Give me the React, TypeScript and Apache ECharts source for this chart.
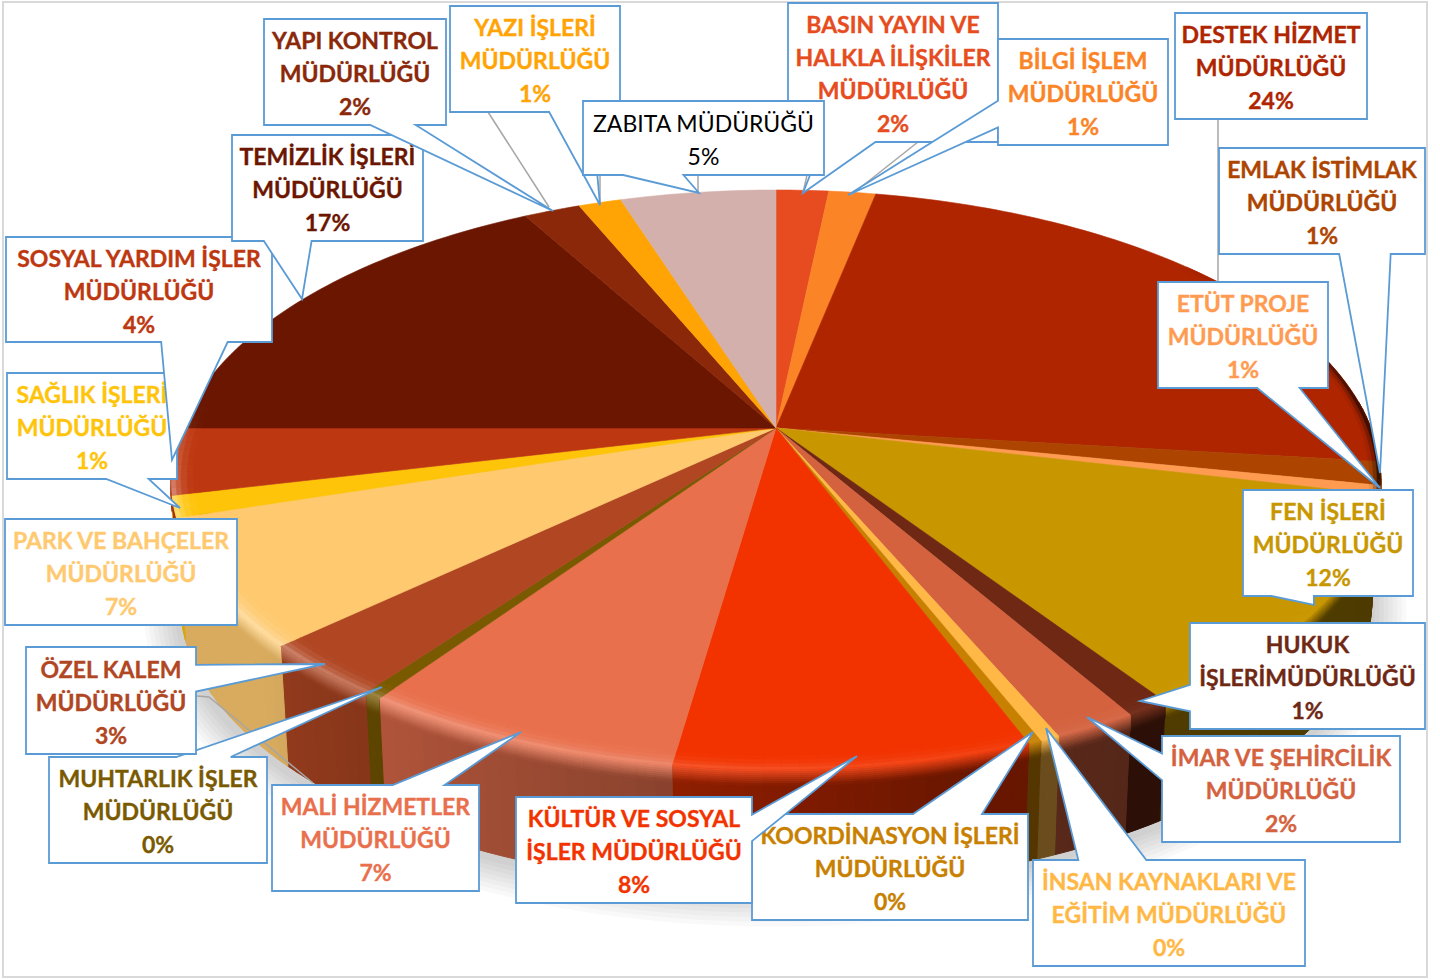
import React, { useEffect, useRef } from "react";
import * as echarts from "echarts";

// ---- data, clockwise from the top of the pie ----
const departments = [
  "BASIN YAYIN VE\nHALKLA İLİŞKİLER\nMÜDÜRLÜĞÜ",
  "BİLGİ İŞLEM\nMÜDÜRLÜĞÜ",
  "DESTEK HİZMET\nMÜDÜRLÜĞÜ",
  "EMLAK İSTİMLAK\nMÜDÜRLÜĞÜ",
  "ETÜT PROJE\nMÜDÜRLÜĞÜ",
  "FEN İŞLERİ\nMÜDÜRLÜĞÜ",
  "HUKUK\nİŞLERİMÜDÜRLÜĞÜ",
  "İMAR VE ŞEHİRCİLİK\nMÜDÜRLÜĞÜ",
  "İNSAN KAYNAKLARI VE\nEĞİTİM MÜDÜRLÜĞÜ",
  "KOORDİNASYON İŞLERİ\nMÜDÜRLÜĞÜ",
  "KÜLTÜR VE SOSYAL\nİŞLER MÜDÜRLÜĞÜ",
  "MALİ HİZMETLER\nMÜDÜRLÜĞÜ",
  "MUHTARLIK İŞLER\nMÜDÜRLÜĞÜ",
  "ÖZEL KALEM\nMÜDÜRLÜĞÜ",
  "PARK VE BAHÇELER\nMÜDÜRLÜĞÜ",
  "SAĞLIK İŞLERİ\nMÜDÜRLÜĞÜ",
  "SOSYAL YARDIM İŞLER\nMÜDÜRLÜĞÜ",
  "TEMİZLİK İŞLERİ\nMÜDÜRLÜĞÜ",
  "YAPI KONTROL\nMÜDÜRLÜĞÜ",
  "YAZI İŞLERİ\nMÜDÜRLÜĞÜ",
  "ZABITA MÜDÜRÜĞÜ",
];
const shares = [
  1.67, 1.49, 23.7, 1.3, 0.5, 11.94, 1.0, 1.9, 0.45, 0.3, 8.05, 7.33, 0.42, 3.0,
  7.05, 1.2, 3.7, 16.9, 1.8, 1.36, 4.94,
];
const sliceColors = [
  "#E64C20", "#FB8427", "#AE2500", "#AD4500", "#FF9B50", "#C89700", "#6F2814",
  "#D4623F", "#FFB845", "#C88000", "#F23300", "#E9704D", "#7A5A00", "#B04622",
  "#FEC96F", "#FEC40A", "#BD3710", "#6B1600", "#8A2809", "#FFA404", "#D4B0AC",
];

// ---- callout layout: x0, y0, x1, y1, tip (null = no visible pointer) ----
type Box = [number, number, number, number, [number, number] | null];
const boxes: Box[] = [
  [788, 3, 998, 142, [803, 193]],
  [998, 39, 1168, 145, [848, 195]],
  [1175, 13, 1367, 119, null],
  [1219, 148, 1425, 254, [1380, 473]],
  [1158, 282, 1328, 388, [1380, 488]],
  [1243, 490, 1413, 596, [1314, 605]],
  [1190, 623, 1425, 729, [1140, 701]],
  [1162, 736, 1400, 842, [1087, 717]],
  [1033, 860, 1305, 966, [1046, 728]],
  [752, 814, 1028, 920, [1033, 732]],
  [516, 797, 752, 903, [857, 756]],
  [272, 785, 479, 891, [521, 732]],
  [49, 757, 267, 863, [382, 687]],
  [26, 647, 196, 754, [325, 664]],
  [5, 519, 237, 625, null],
  [7, 373, 177, 479, [180, 508]],
  [6, 237, 272, 342, [172, 460]],
  [232, 135, 423, 241, [302, 299]],
  [264, 19, 446, 125, [553, 211]],
  [450, 6, 620, 112, [600, 205]],
  [583, 101, 824, 175, [699, 193]],
];
const leaders: number[][][] = [
  [[197, 696], [209, 697], [313, 783]],
  [[488, 112], [549, 207]],
  [[600, 175], [600, 204]],
  [[698, 175], [698, 193]],
  [[807, 175], [803, 193]],
  [[918, 142], [851, 195]],
  [[1218, 119], [1218, 282]],
];

// ---- projection of the tilted disc ----
const TILT = 0.179;
function project(r: number, deg: number): [number, number] {
  const a = (deg * Math.PI) / 180;
  const x = r * Math.sin(a);
  const y = -r * Math.cos(a);
  const w = 1 - TILT * y;
  return [776 + (595 * x) / w, 428 + (280.6 * y) / w];
}
function lower(p: [number, number]): [number, number] {
  return [775 + (p[0] - 775) * 0.985, 603 + (p[1] - 480) * 0.983];
}

// ---- colour helpers ----
function rgb(hex: string) {
  return [1, 3, 5].map((i) => parseInt(hex.slice(i, i + 2), 16));
}
function mix(a: string, b: string, t: number) {
  const A = rgb(a);
  const B = rgb(b);
  const c = A.map((v, i) => Math.round(v + (B[i] - v) * t));
  return "#" + c.map((v) => v.toString(16).padStart(2, "0")).join("");
}
function lerpTable(table: number[][], v: number) {
  if (v <= table[0][0]) return table[0][1];
  for (let i = 1; i < table.length; i++) {
    if (v <= table[i][0]) {
      const [x0, y0] = table[i - 1];
      const [x1, y1] = table[i];
      return y0 + ((y1 - y0) * (v - x0)) / (x1 - x0);
    }
  }
  return table[table.length - 1][1];
}
const wallLight = [[95, 0.38], [150, 0.4], [165, 0.44], [190, 0.6], [215, 0.76], [230, 0.85], [270, 0.85]];
const rimLight = [[120, 0], [160, 0.06], [185, 0.15], [215, 0.25], [235, 0.35], [255, 0.4], [268, 0.2], [275, 0]];
const rimDark = [[50, 0], [85, 0.6], [100, 0.7], [118, 0]];

function sliceRange(i: number): [number, number] {
  const total = shares.reduce((a, b) => a + b, 0);
  const before = shares.slice(0, i).reduce((a, b) => a + b, 0);
  return [(before / total) * 360, ((before + shares[i]) / total) * 360];
}
function pieces(s: number, e: number, step: number) {
  const n = Math.max(1, Math.ceil((e - s) / step));
  const out: [number, number][] = [];
  for (let k = 0; k < n; k++) out.push([s + ((e - s) * k) / n, s + ((e - s) * (k + 1)) / n]);
  return out;
}
function poly(points: number[][], fill: any, lineWidth = 0.6) {
  return {
    type: "polygon",
    shape: { points },
    style: { fill, stroke: lineWidth ? fill : "none", lineWidth },
  };
}

function renderWall(params: any) {
  const i = params.dataIndex;
  const [s, e] = sliceRange(i);
  const base = sliceColors[i];
  const children: any[] = [];
  const spans = pieces(s, e, 1.5).filter(([a, b]) => {
    const mid = (a + b) / 2;
    return mid >= 85 && mid <= 282;
  });
  for (const [a, b] of spans) {
    const mid = (a + b) / 2;
    const pa = project(1, a);
    const pb = project(1, b);
    const wall = mix("#000000", base, lerpTable(wallLight, mid));
    children.push(poly([pa, pb, lower(pb), lower(pa)], wall, 1));
  }
  for (const [a, b] of spans) {
    const mid = (a + b) / 2;
    const pa = project(1, a);
    const pb = project(1, b);
    const wall = mix("#000000", base, lerpTable(wallLight, mid));
    const edge = mix(base, "#FFFFFF", lerpTable(rimLight, mid));
    const steps = [0, 2, 4, 6, 8, 10, 12, 14, 16];
    for (let k = 0; k < steps.length - 1; k++) {
      const t = (k + 0.5) / (steps.length - 1);
      children.push(
        poly(
          [
            [pa[0], pa[1] + steps[k]],
            [pb[0], pb[1] + steps[k]],
            [pb[0], pb[1] + steps[k + 1]],
            [pa[0], pa[1] + steps[k + 1]],
          ],
          mix(edge, wall, t),
          0.8,
        ),
      );
    }
  }
  return { type: "group", children };
}

function renderTop(params: any) {
  const i = params.dataIndex;
  const [s, e] = sliceRange(i);
  const pts: number[][] = [project(0, s)];
  const n = Math.max(2, Math.ceil(e - s));
  for (let k = 0; k <= n; k++) pts.push(project(1, s + ((e - s) * k) / n));
  return poly(pts, sliceColors[i]);
}

function renderRim(params: any) {
  const i = params.dataIndex;
  const [s, e] = sliceRange(i);
  const base = sliceColors[i];
  const lightRings = [0.965, 0.975, 0.985, 0.993, 1];
  const darkRings = [0.982, 0.988, 0.994, 1];
  const children: any[] = [];
  for (const [a, b] of pieces(s, e, 1.5)) {
    const mid = (a + b) / 2;
    const light = lerpTable(rimLight, mid);
    const dark = lerpTable(rimDark, mid);
    if (light <= 0 && dark <= 0) continue;
    const rings = light > 0 ? lightRings : darkRings;
    const edge = light > 0 ? mix(base, "#FFFFFF", light) : mix(base, "#000000", dark);
    for (let k = 0; k < rings.length - 1; k++) {
      const t = Math.pow((k + 1) / (rings.length - 1), 2);
      children.push(
        poly(
          [project(rings[k], a), project(rings[k], b), project(rings[k + 1], b), project(rings[k + 1], a)],
          mix(base, edge, t),
          0.5,
        ),
      );
    }
  }
  return { type: "group", children };
}

// Callout outline: pointer base sits at fixed fractions of the edge it leaves from.
function calloutPoints(b: Box) {
  const [x0, y0, x1, y1, tip] = b;
  const w = x1 - x0;
  const h = y1 - y0;
  const rect = [[x0, y0], [x1, y0], [x1, y1], [x0, y1]];
  if (!tip) return rect;
  const nx = (tip[0] - (x0 + w / 2)) / w;
  const ny = (tip[1] - (y0 + h / 2)) / h;
  const hBase = nx < 0 ? [w / 6, (w * 5) / 12] : [(w * 7) / 12, (w * 10) / 12];
  const vBase = ny < 0 ? [h / 6, (h * 5) / 12] : [(h * 7) / 12, (h * 10) / 12];
  if (Math.abs(nx) > Math.abs(ny)) {
    if (nx > 0)
      return [[x0, y0], [x1, y0], [x1, y0 + vBase[0]], tip, [x1, y0 + vBase[1]], [x1, y1], [x0, y1]];
    return [[x0, y0], [x1, y0], [x1, y1], [x0, y1], [x0, y0 + vBase[1]], tip, [x0, y0 + vBase[0]]];
  }
  if (ny > 0)
    return [[x0, y0], [x1, y0], [x1, y1], [x0 + hBase[1], y1], tip, [x0 + hBase[0], y1], [x0, y1]];
  return [[x0, y0], [x0 + hBase[0], y0], tip, [x0 + hBase[1], y0], [x1, y0], [x1, y1], [x0, y1]];
}

function buildGraphics() {
  const out: any[] = [];
  out.push({
    type: "rect",
    z: 0,
    shape: { x: 3, y: 2, width: 1424, height: 975 },
    style: { fill: "#FFFFFF", stroke: "#D9D9D9", lineWidth: 2 },
  });
  for (let k = 7; k >= 0; k--) {
    out.push({
      type: "ellipse",
      z: 1,
      shape: { cx: 775, cy: 610, rx: 600 + k * 4.5, ry: 285 + k * 4.5 },
      style: { fill: "rgba(0,0,0,0.022)" },
    });
  }
  leaders.forEach((points) => {
    out.push({
      type: "polyline",
      z: 50,
      shape: { points },
      style: { stroke: "#A6A6A6", lineWidth: 1.5, fill: "none" },
    });
  });
  departments.forEach((name, i) => {
    const b = boxes[i];
    const z = 100 + i;
    out.push({
      type: "polygon",
      z,
      shape: { points: calloutPoints(b) },
      style: { fill: "#FFFFFF", stroke: "#5B9BD5", lineWidth: 1.8, lineJoin: "miter" },
    });
    const lines = [...name.split("\n"), `${Math.round(shares[i])}%`];
    const isZabita = name.startsWith("ZABITA");
    const lh = 33;
    const cx = (b[0] + b[2]) / 2;
    const top = b[1] + (b[3] - b[1] - lines.length * lh) / 2 + lh / 2 + 1;
    lines.forEach((line, k) => {
      const fill = isZabita ? "#000000" : sliceColors[i];
      out.push({
        type: "text",
        z,
        style: {
          text: line,
          x: cx,
          y: top + k * lh,
          align: "center",
          verticalAlign: "middle",
          fill,
          stroke: isZabita ? "none" : fill,
          lineWidth: isZabita ? 0 : 0.35,
          font: `${isZabita ? "400" : "700"} 23px Lato, Carlito, sans-serif`,
        },
      });
    });
  });
  return out;
}

export default function App() {
  const ref = useRef<HTMLDivElement>(null);
  useEffect(() => {
    const chart = echarts.init(ref.current!, undefined, { renderer: "svg" });
    const series = (z: number, renderItem: any) => ({
      type: "custom",
      coordinateSystem: "none",
      z,
      silent: true,
      clip: false,
      data: shares,
      renderItem,
    });
    chart.setOption({
      animation: false,
      backgroundColor: "#FFFFFF",
      graphic: buildGraphics(),
      series: [series(2, renderWall), series(3, renderTop), series(4, renderRim)],
    });
    return () => chart.dispose();
  }, []);
  return <div ref={ref} style={{ position: "absolute", left: 0, top: 0, width: 1440, height: 979 }} />;
}
